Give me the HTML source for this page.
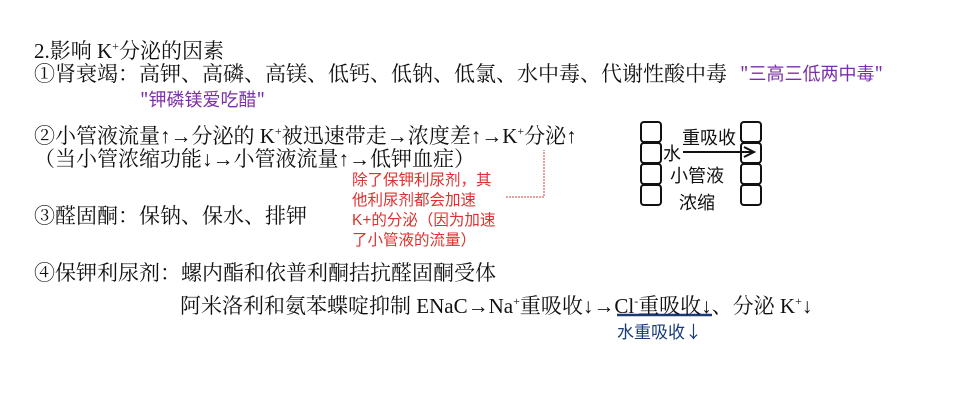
<!DOCTYPE html>
<html><head><meta charset="utf-8"><style>
body{margin:0;background:#fff;width:953px;height:401px;position:relative;overflow:hidden;font-family:"Liberation Serif","Noto Serif CJK SC","Noto Sans CJK SC",serif;color:#111}
.t{position:absolute;white-space:nowrap;font-size:21px;line-height:24px}
.p{position:absolute;white-space:nowrap;color:#7b2fa8;font-size:18px;font-family:"WenQuanYi Zen Hei","Noto Sans CJK SC",sans-serif}
.r{position:absolute;white-space:nowrap;color:#e03030;font-size:15.5px;line-height:20px;font-family:"Liberation Sans","Noto Sans CJK SC",sans-serif}
.b{position:absolute;white-space:nowrap;color:#1a3a7a;font-size:17px;font-family:"WenQuanYi Zen Hei","Noto Sans CJK SC",sans-serif}
.k{position:absolute;white-space:nowrap;color:#111;font-size:18px;font-family:"WenQuanYi Zen Hei","Noto Sans CJK SC",sans-serif}
.bx{position:absolute;width:18px;height:18px;border:2px solid #111;border-radius:4px}
sup{font-size:12px}
</style></head><body>
<div class="t" style="left:34px;top:34px">2.影响 K<sup>+</sup>分泌的因素</div>
<div class="t" style="left:34px;top:62px">①肾衰竭：高钾、高磷、高镁、低钙、低钠、低氯、水中毒、代谢性酸中毒</div>
<div class="p" style="left:740px;top:60px">"三高三低两中毒"</div>
<div class="p" style="left:140px;top:86px">"钾磷镁爱吃醋"</div>
<div class="t" style="left:34px;top:119px">②小管液流量↑→分泌的 K<sup>+</sup>被迅速带走→浓度差↑→K<sup>+</sup>分泌↑</div>
<div class="t" style="left:34px;top:147px">（当小管浓缩功能↓→小管液流量↑→低钾血症）</div>
<div class="r" style="left:352px;top:171px">除了保钾利尿剂，其<br>他利尿剂都会加速<br>K+的分泌（因为加速<br>了小管液的流量）</div>
<svg style="position:absolute;left:0;top:0" width="953" height="401">
<path d="M506 197 H544 V150" fill="none" stroke="#d04040" stroke-width="1" stroke-dasharray="2,1"/>
<line x1="683" y1="152" x2="752" y2="152" stroke="#111" stroke-width="2"/>
<path d="M744 147 L754 152 L744 157" fill="none" stroke="#111" stroke-width="2"/>
<line x1="617" y1="315" x2="712" y2="315" stroke="#1a3a7a" stroke-width="2.5"/>
</svg>
<div class="bx" style="left:640px;top:121px"></div>
<div class="bx" style="left:640px;top:142px"></div>
<div class="bx" style="left:640px;top:163px"></div>
<div class="bx" style="left:640px;top:184px"></div>
<div class="bx" style="left:740px;top:121px"></div>
<div class="bx" style="left:740px;top:142px"></div>
<div class="bx" style="left:740px;top:163px"></div>
<div class="bx" style="left:740px;top:184px"></div>
<div class="k" style="left:663px;top:140px">水</div>
<div class="k" style="left:682px;top:124px">重吸收</div>
<div class="k" style="left:670px;top:162px">小管液</div>
<div class="k" style="left:679px;top:189px">浓缩</div>
<div class="t" style="left:34px;top:204px">③醛固酮：保钠、保水、排钾</div>
<div class="t" style="left:34px;top:261px">④保钾利尿剂：螺内酯和依普利酮拮抗醛固酮受体</div>
<div class="t" style="left:180px;top:289px">阿米洛利和氨苯蝶啶抑制 ENaC→Na<sup>+</sup>重吸收↓→Cl<sup>-</sup>重吸收↓、分泌 K<sup>+</sup>↓</div>
<div class="b" style="left:617px;top:318px">水重吸收↓</div>
</body></html>
